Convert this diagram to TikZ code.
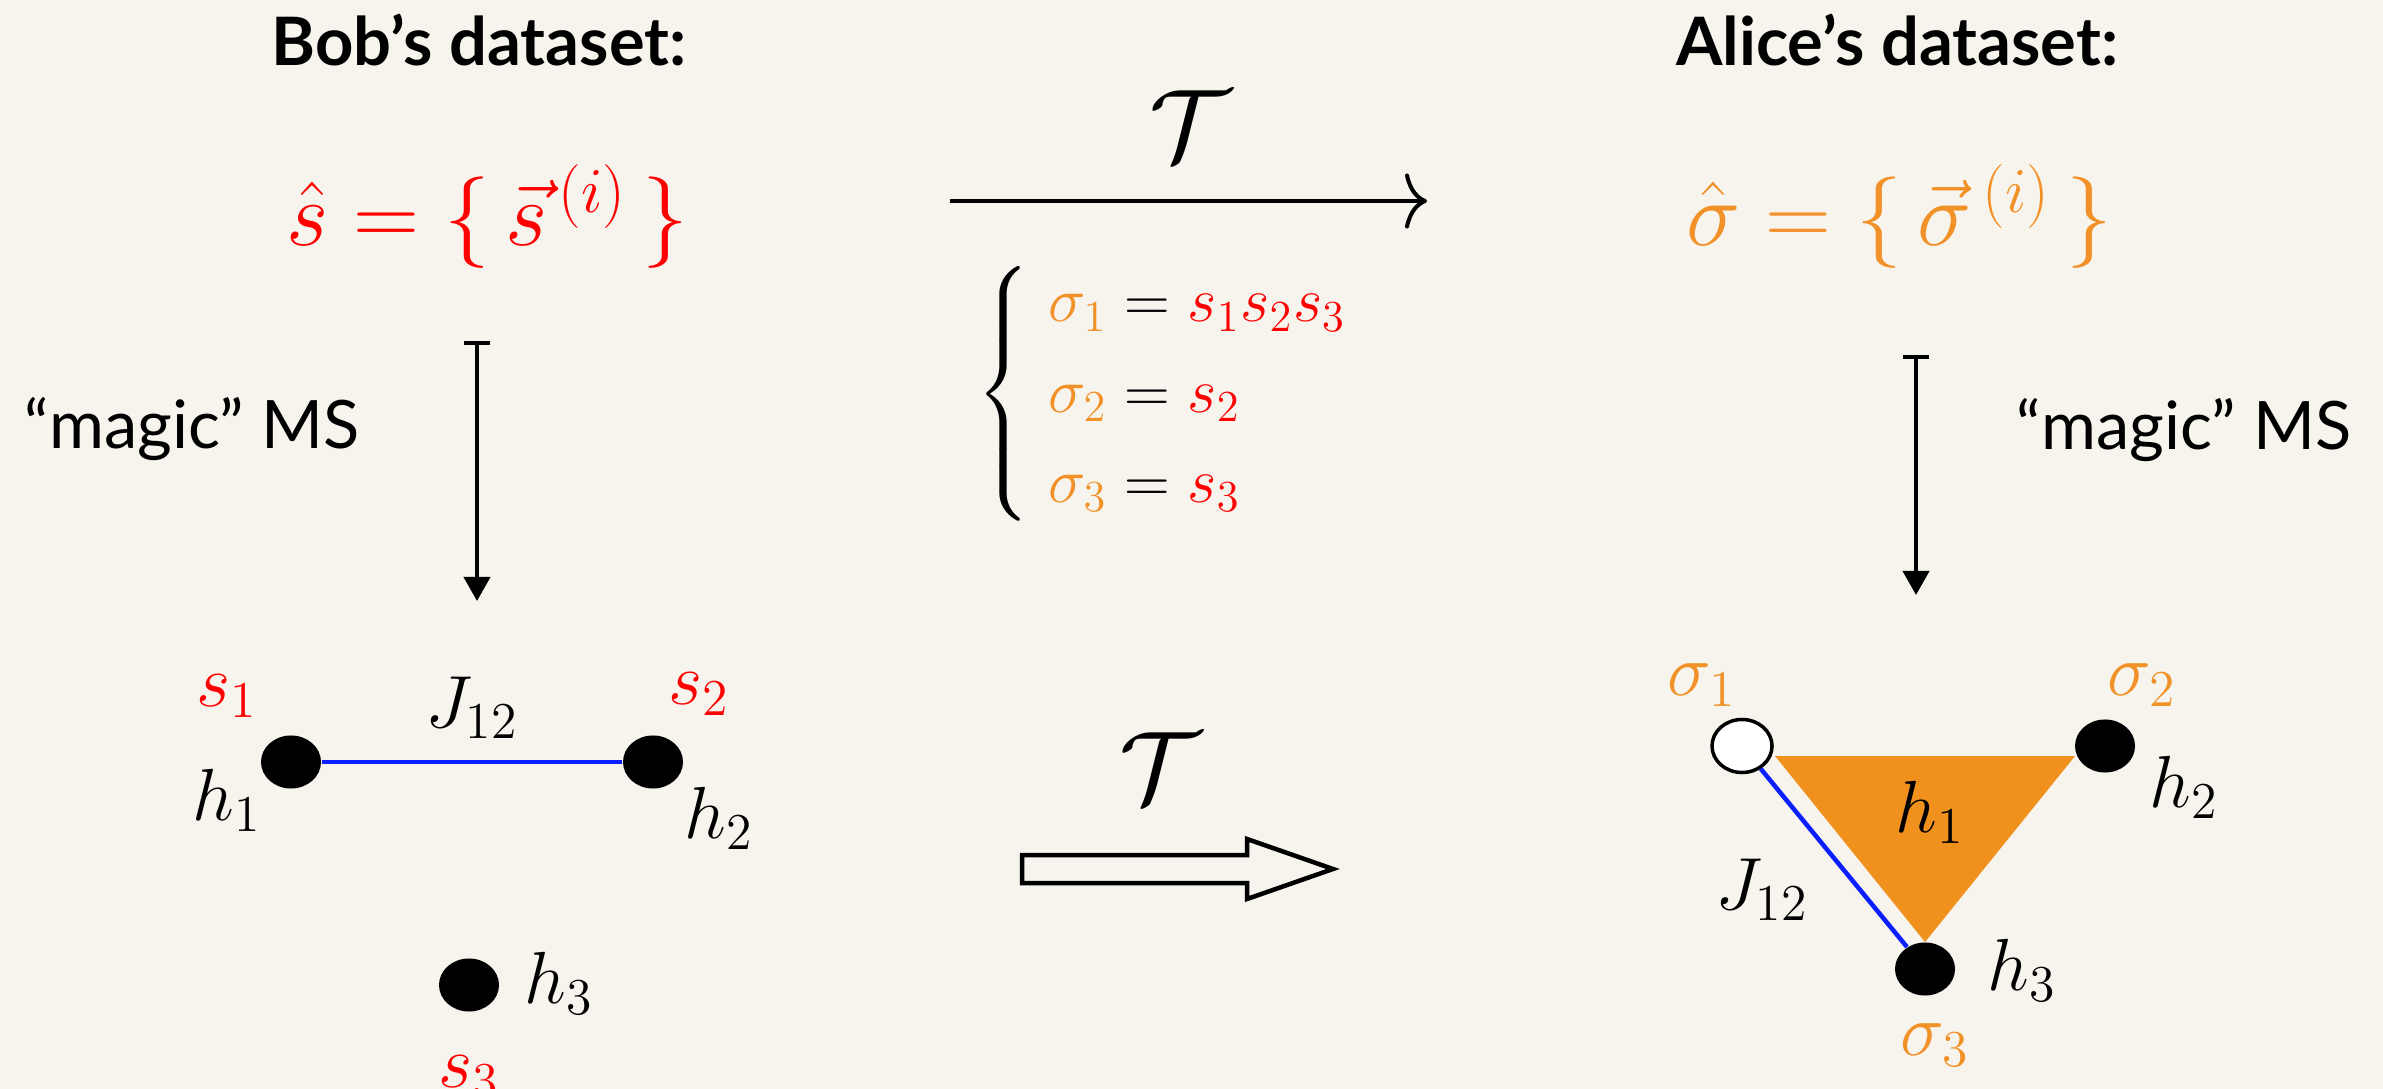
\RequirePackage{fix-cm}
\documentclass[tikz,border=0pt]{standalone}
\usepackage{amsmath}
\usepackage{fontspec}
\usepackage{tikz}
\usetikzlibrary{arrows.meta,shapes.geometric}
\newfontfamily\slidefont{Lato}
\definecolor{paper}{RGB}{247,244,237}
\definecolor{spinred}{RGB}{255,0,0}
\definecolor{sigorange}{RGB}{241,145,40}
\definecolor{plaqorange}{RGB}{241,145,29}
\definecolor{jblue}{RGB}{10,30,255}
\begin{document}
\begin{tikzpicture}[x=0.01cm,y=-0.01cm,
    dot/.style={ellipse,fill=black,inner sep=0pt,minimum width=0.6cm,minimum height=0.53cm},
    opendot/.style={dot,fill=white,draw=black,line width=0.035cm},
    lab/.style={font=\fontsize{21}{25}\selectfont},
    spinlab/.style={lab,text=spinred},
    siglab/.style={lab,text=sigorange},
    title/.style={font=\slidefont\bfseries\fontsize{19}{23}\selectfont,anchor=base},
    msnote/.style={font=\slidefont\fontsize{19}{23}\selectfont,anchor=base},
    mapsto/.style={{Bar[width=0.26cm]}-{Triangle[width=0.26cm,length=0.24cm]},line width=0.04cm},
    coupling/.style={jblue,line width=0.045cm}]
  \fill[paper] (0,0) rectangle (2383,1089);
  \useasboundingbox (0,0) rectangle (2383,1089);

  % datasets
  \node[title] (bobtitle) at (479,66) {Bob’s dataset:};
  \node[title] (alicetitle) at (1897,66) {Alice’s dataset:};
  \node[font=\fontsize{26}{30}\selectfont,text=spinred,anchor=base] (bobdata) at (487,246)
    {$\hat{s}=\{\,\vec{s}^{\,(i)}\,\}$};
  \node[font=\fontsize{26}{30}\selectfont,text=sigorange,anchor=base] (alicedata) at (1899,246)
    {$\hat{\sigma}=\{\,\vec{\sigma}^{\,(i)}\,\}$};

  % the map T
  \coordinate (tstart) at (950,201);
  \coordinate (tend) at (1427,201);
  \draw[line width=0.04cm,-{Computer Modern Rightarrow[width=0.55cm,length=0.22cm]}] (tstart) -- (tend);
  \node[font=\fontsize{29}{34}\selectfont] (tmap) at (1190,126) {$\mathcal{T}$};
  \node[anchor=west,inner sep=0pt,font=\fontsize{18}{25.6}\selectfont] (rules) at (976,394)
    {$\left\{\begin{array}{l}
      \textcolor{sigorange}{\sigma_1}=\textcolor{spinred}{s_1s_2s_3}\\
      \textcolor{sigorange}{\sigma_2}=\textcolor{spinred}{s_2}\\
      \textcolor{sigorange}{\sigma_3}=\textcolor{spinred}{s_3}
    \end{array}\right.$};

  % magic MS
  \node[msnote] (bobms) at (192,449) {“magic” MS};
  \node[msnote] (alicems) at (2184,450) {“magic” MS};
  \coordinate (bobfrom) at (477,341);
  \coordinate (bobto) at (477,601);
  \coordinate (alicefrom) at (1916,355);
  \coordinate (aliceto) at (1916,595);
  \draw[mapsto] (bobfrom) -- (bobto);
  \draw[mapsto] (alicefrom) -- (aliceto);

  % Bob's model
  \foreach \n/\x/\y in {b1/291/762,b2/653/762,b3/469/985}
    \node[dot] (\n) at (\x,\y) {};
  \draw[coupling] (b1) -- (b2);
  \node[spinlab] (bs1) at (227,696) {$s_1$};
  \node[spinlab] (bs2) at (699,694) {$s_2$};
  \node[spinlab] (bs3) at (469,1077) {$s_3$};
  \node[lab] (bh1) at (227,800) {$h_1$};
  \node[lab] (bh2) at (719,818) {$h_2$};
  \node[lab] (bh3) at (559,983) {$h_3$};
  \node[lab] (bj12) at (472,708) {$J_{12}$};

  % double arrow
  \draw[line width=0.045cm,line join=miter] (1022,855) -- (1247,855) -- (1247,839) -- (1333,869)
    -- (1247,899) -- (1247,883) -- (1022,883) -- cycle;
  \node[font=\fontsize{29}{34}\selectfont] (tlow) at (1160,768) {$\mathcal{T}$};

  % Alice's model
  \fill[plaqorange] (1775,756) -- (2075,756) -- (1925,942) -- cycle;
  \node[opendot] (a1) at (1742,746) {};
  \node[dot] (a2) at (2105,746) {};
  \node[dot] (a3) at (1925,969) {};
  \draw[coupling] (a1) -- (a3);
  \node[siglab] (as1) at (1702,685) {$\sigma_1$};
  \node[siglab] (as2) at (2142,685) {$\sigma_2$};
  \node[siglab] (as3) at (1935,1045) {$\sigma_3$};
  \node[lab] (ah1) at (1930,812) {$h_1$};
  \node[lab] (ah2) at (2184,787) {$h_2$};
  \node[lab] (ah3) at (2022,970) {$h_3$};
  \node[lab] (aj12) at (1762,890) {$J_{12}$};
\end{tikzpicture}
\end{document}
